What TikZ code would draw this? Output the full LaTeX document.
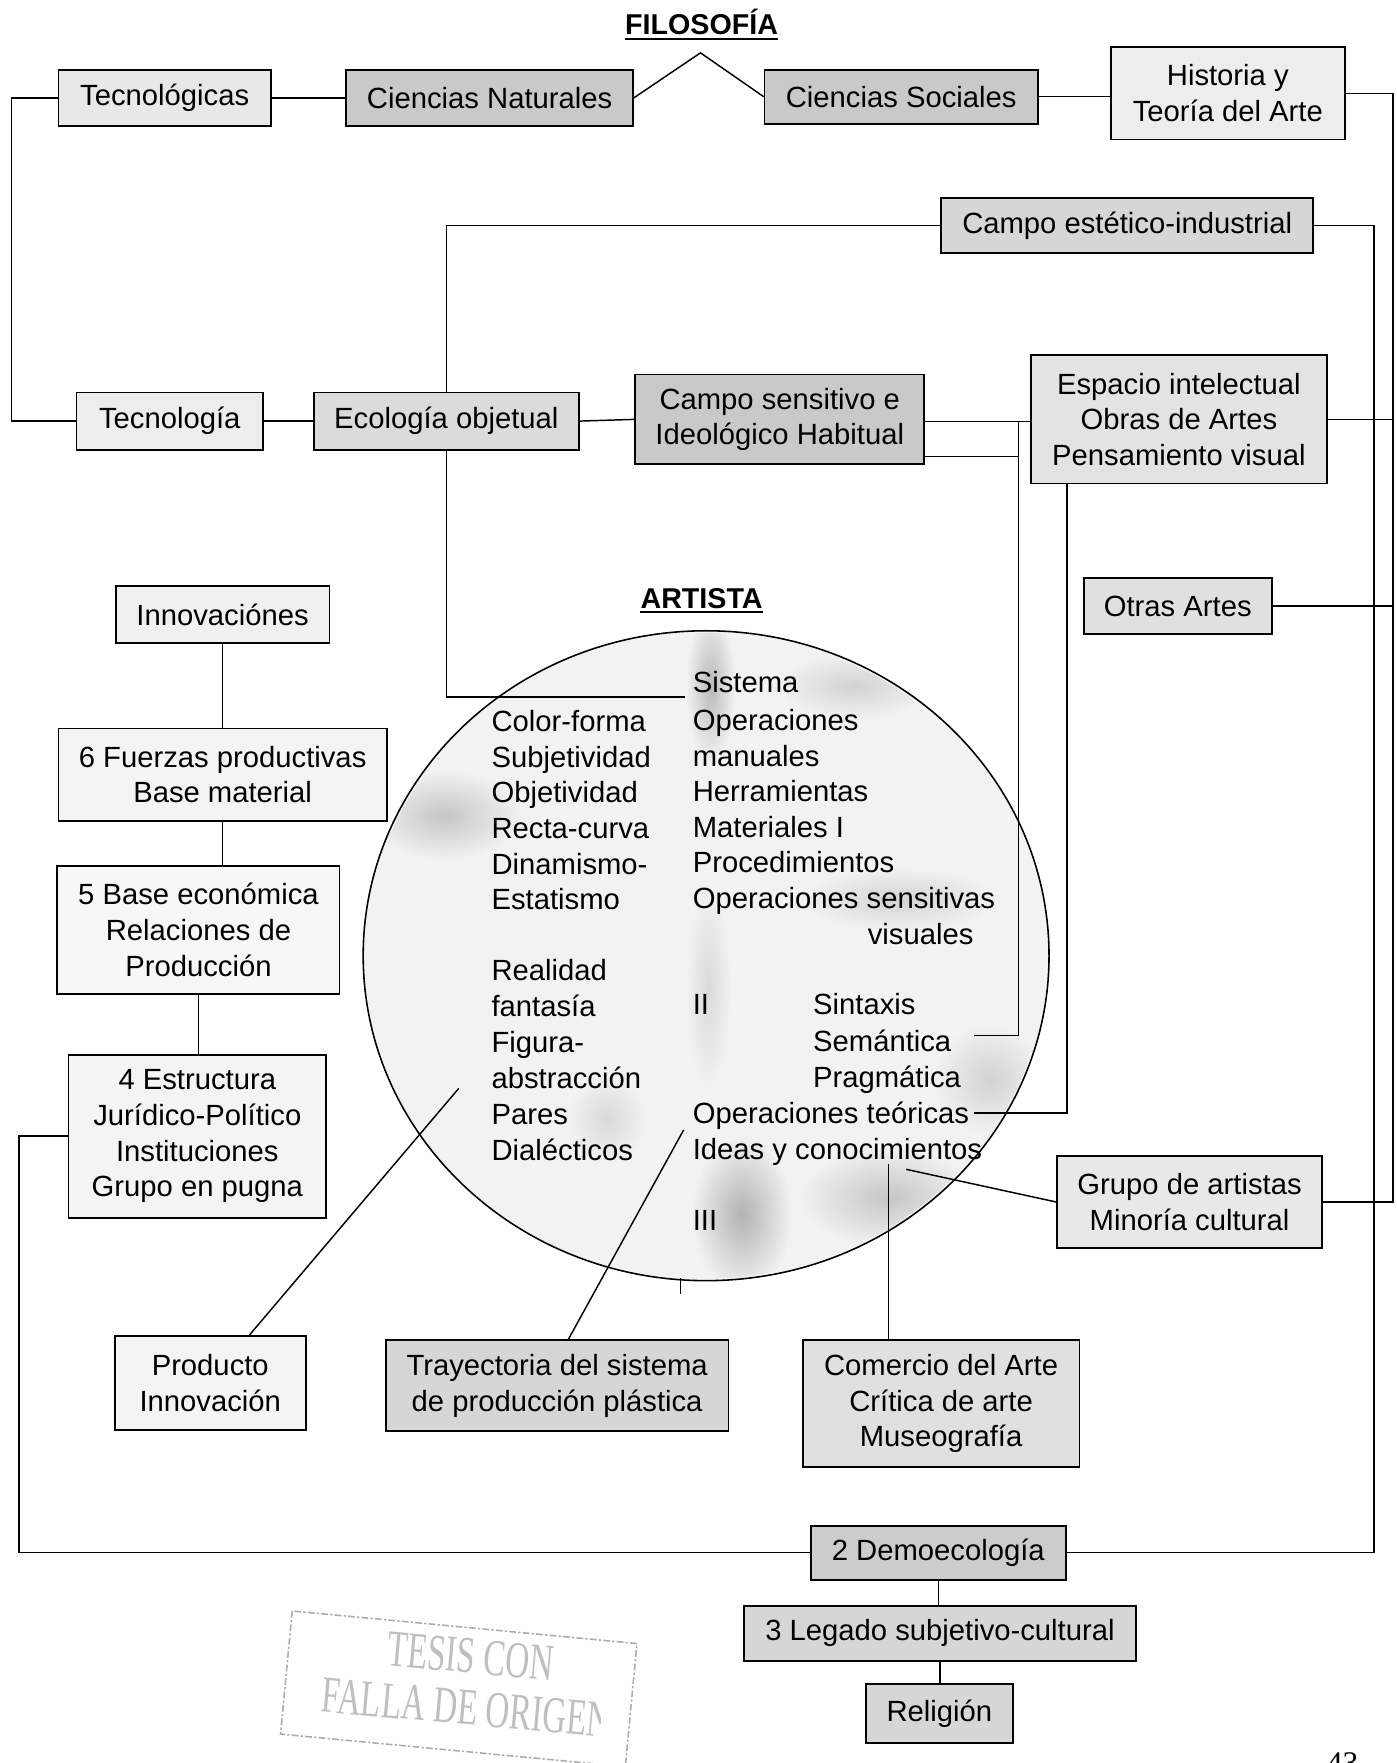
\documentclass[tikz,border=0pt]{standalone}
\usepackage{fontspec}
\setmainfont{Liberation Sans}
\newfontfamily\stampfont{Liberation Serif}
\usetikzlibrary{shapes.geometric}
\begin{document}
\begin{tikzpicture}[x=1pt,y=-1pt,
  bx/.style={draw=black, line width=1.6pt, inner sep=0pt, align=center, font=\fontsize{26}{31.7}\selectfont},
  ln/.style={line width=1.3pt},
  ct/.style={anchor=base west, inner sep=0pt, font=\fontsize{26}{31.7}\selectfont},
  ttl/.style={anchor=base, inner sep=0pt, font=\fontsize{25.5}{30}\selectfont\bfseries},
  stamp/.style={inner sep=0pt, text=gray!50, font=\stampfont\fontsize{46}{46}\selectfont},
  patch/.style={outer color=gray!10}
]
\useasboundingbox (0,0) rectangle (1242,1568);
\fill[white] (0,0) rectangle (1242,1568);

% ---- circle ARTISTA ----
\node[ellipse, draw, line width=1.4pt, minimum width=610, minimum height=578, fill=gray!10] (art) at (628,850) {};
\begin{scope}
  \clip (628,850) ellipse [x radius=303, y radius=287];
  \shade[patch, inner color=gray!55] (632,610) ellipse [x radius=22, y radius=70];
  \shade[patch, inner color=gray!45] (395,725) ellipse [x radius=70, y radius=40];
  \shade[patch, inner color=gray!35] (760,610) ellipse [x radius=70, y radius=30];
  \shade[patch, inner color=gray!35] (800,800) ellipse [x radius=90, y radius=28];
  \shade[patch, inner color=gray!35] (880,960) ellipse [x radius=50, y radius=50];
  \shade[patch, inner color=gray!60] (660,1080) ellipse [x radius=45, y radius=70];
  \shade[patch, inner color=gray!45] (790,1065) ellipse [x radius=80, y radius=45];
  \shade[patch, inner color=gray!30] (540,995) ellipse [x radius=35, y radius=40];
  \shade[patch, inner color=gray!30] (630,880) ellipse [x radius=20, y radius=90];
\end{scope}

% ---- titles ----
\node[ttl] (filo) at (624,31) {FILOSOFÍA};
\draw[line width=2pt] ([yshift=-3.5pt]filo.base west) -- ([yshift=-3.5pt]filo.base east);
\node[ttl] (arti) at (624,541) {ARTISTA};
\draw[line width=2pt] ([yshift=-3.5pt]arti.base west) -- ([yshift=-3.5pt]arti.base east);

% ---- boxes ----
\node[bx, fill=gray!18, minimum width=189, minimum height=50] (tecs) at (146.5,87) {Tecnológicas};
\node[bx, fill=gray!42, minimum width=255, minimum height=50] (cnat) at (435.5,87) {Ciencias Naturales};
\node[bx, fill=gray!42, minimum width=243, minimum height=48] (csoc) at (801.5,86) {Ciencias Sociales};
\node[bx, fill=gray!14, minimum width=208, minimum height=82] (hist) at (1092,83) {Historia y\\Teoría del Arte};
\node[bx, fill=gray!32, minimum width=331, minimum height=49] (cest) at (1002.5,200.5) {Campo estético-industrial};
\node[bx, fill=gray!14, minimum width=166, minimum height=51] (tecn) at (151,374.5) {Tecnología};
\node[bx, fill=gray!28, minimum width=236, minimum height=51] (ecol) at (397,374.5) {Ecología objetual};
\node[bx, fill=gray!42, minimum width=257, minimum height=80] (csen) at (693.5,373) {Campo sensitivo e\\Ideológico Habitual};
\node[bx, fill=gray!22, minimum width=263, minimum height=114] (espa) at (1048.5,373) {Espacio intelectual\\Obras de Artes\\Pensamiento visual};
\node[bx, fill=gray!12, minimum width=190, minimum height=51] (inno) at (198,546.5) {Innovaciónes};
\node[bx, fill=gray!24, minimum width=167, minimum height=50] (otra) at (1047.5,539) {Otras Artes};
\node[bx, fill=gray!9, minimum width=292, minimum height=82] (fuer) at (198,689) {6 Fuerzas productivas\\Base material};
\node[bx, fill=gray!6, minimum width=251, minimum height=114] (base) at (176.5,827) {5 Base económica\\Relaciones de\\Producción};
\node[bx, fill=gray!9, minimum width=229, minimum height=145] (estr) at (175.5,1010.5) {4 Estructura\\Jurídico-Político\\Instituciones\\Grupo en pugna};
\node[bx, fill=gray!18, minimum width=236, minimum height=82] (grup) at (1058,1069) {Grupo de artistas\\Minoría cultural};
\node[bx, fill=gray!9, minimum width=170, minimum height=84] (prod) at (187,1230) {Producto\\Innovación};
\node[bx, fill=gray!32, minimum width=305, minimum height=81] (tray) at (495.5,1232.5) {Trayectoria del sistema\\de producción plástica};
\node[bx, fill=gray!24, minimum width=246, minimum height=113] (come) at (837,1248.5) {Comercio del Arte\\Crítica de arte\\Museografía};
\node[bx, fill=gray!40, minimum width=227, minimum height=48] (demo) at (834.5,1381) {2 Demoecología};
\node[bx, fill=gray!32, minimum width=348, minimum height=49] (lega) at (836,1452.5) {3 Legado subjetivo-cultural};
\node[bx, fill=gray!32, minimum width=131, minimum height=52] (reli) at (835.5,1524) {Religión};

% ---- helper coordinates ----
\coordinate (apex) at (623,47);
\coordinate (ro) at (1239,0);
\coordinate (ri) at (1222,0);
\coordinate (vA) at (906,0);
\coordinate (vB) at (949,0);
\coordinate (yU) at (0,375);
\coordinate (yL) at (0,406);
\coordinate (sem) at (866,921);
\coordinate (opt) at (866,990);
\coordinate (sys) at (609,620);
\coordinate (pA) at (408,968);
\coordinate (tA) at (608,1005);
\coordinate (cA) at (790,1035);
\coordinate (gA) at (806,1040);
\coordinate (tk1) at (605,1137);
\coordinate (tk2) at (605,1151);
\coordinate (xL) at (10,0);
\coordinate (xL2) at (17,0);

% ---- connectors ----
\draw[ln] (tecs.west) -- (tecs.west -| xL) |- (tecn.west);
\draw[ln] (tecs.east) -- (cnat.west);
\draw[ln] (cnat.east) -- (apex) -- (csoc.west);
\draw[ln] (csoc.east) -- (csoc.east -| hist.west);
\draw[ln] (hist.east) -| (ro |- grup.east) -- (grup.east);
\draw[ln] (espa.east) -- (espa.east -| ro);
\draw[ln] (otra.east) -- (otra.east -| ro);
\draw[ln] (cest.east) -| (ri |- demo.east) -- (demo.east);
\draw[ln] (cest.west) -| (ecol.north);
\draw[ln] (ecol.south) |- (sys);
\draw[ln] (tecn.east) -- (ecol.west);
\draw[ln] (ecol.east) -- (csen.west);
\draw[ln] (csen.east |- yU) -- (espa.west |- yU);
\draw[ln] (csen.east |- yL) -- (vA |- yL);
\draw[ln] (vA |- yU) -- (vA |- sem) -- (sem);
\draw[ln] (espa.south -| vB) |- (opt);
\draw[ln] (inno.south) -- (fuer.north);
\draw[ln] (fuer.south) -- (fuer.south |- base.north);
\draw[ln] (base.south) -- (base.south |- estr.north);
\draw[ln] (estr.west) -- (estr.west -| xL2) |- (demo.west);
\draw[ln] ([xshift=35pt]prod.north) -- (pA);
\draw[ln] ([xshift=10pt]tray.north) -- (tA);
\draw[ln] ([xshift=-47pt]come.north) -- (cA);
\draw[ln] (grup.west) -- (gA);
\draw[ln] (tk1) -- (tk2);
\draw[ln] (demo.south) -- (demo.south |- lega.north);
\draw[ln] (lega.south) -- (lega.south |- reli.north);

% ---- circle texts ----
\foreach \t/\xx/\yy [count=\i] in {Color-forma/437/651, Subjetividad/437/683, Objetividad/437/714, Recta-curva/437/746, Dinamismo-/437/778, Estatismo/437/809, Realidad/437/872, fantasía/437/904, Figura-/437/936, abstracción/437/968, Pares/437/1000, Dialécticos/437/1032}
  \node[ct] (L\i) at (\xx,\yy) {\t};
\foreach \t/\xx/\yy [count=\i] in {Sistema/616/616, Operaciones/616/650, manuales/616/682, Herramientas/616/713, Materiales I/616/745, Procedimientos/616/776, Operaciones sensitivas/616/808, II/616/902, Sintaxis/723/902, Semántica/723/935, Pragmática/723/967, Operaciones teóricas/616/999, Ideas y conocimientos/616/1031, III/616/1094}
  \node[ct] (R\i) at (\xx,\yy) {\t};
\node[ct, anchor=base east] (vis) at (866,840) {visuales};

% ---- stamp ----
\begin{scope}[shift={(408,1502)}, rotate=-5.4]
  \draw[gray!65, line width=1.4pt, dash pattern=on 6pt off 2pt on 2pt off 2pt] (-154,-55) rectangle (154,55);
  \begin{scope}
    \clip (-150,-52) rectangle (128,52);
    \node[stamp, rotate=-5] (st) at (8,-1) {\scalebox{0.64}[1]{\begin{tabular}{@{}c@{}}TESIS CON\\FALLA DE ORIGEN\end{tabular}}};
  \end{scope}
\end{scope}

% ---- page number ----
\node[anchor=base, inner sep=0pt, font=\stampfont\fontsize{28}{28}\selectfont] (pg) at (1194,1577) {43};
\end{tikzpicture}
\end{document}
